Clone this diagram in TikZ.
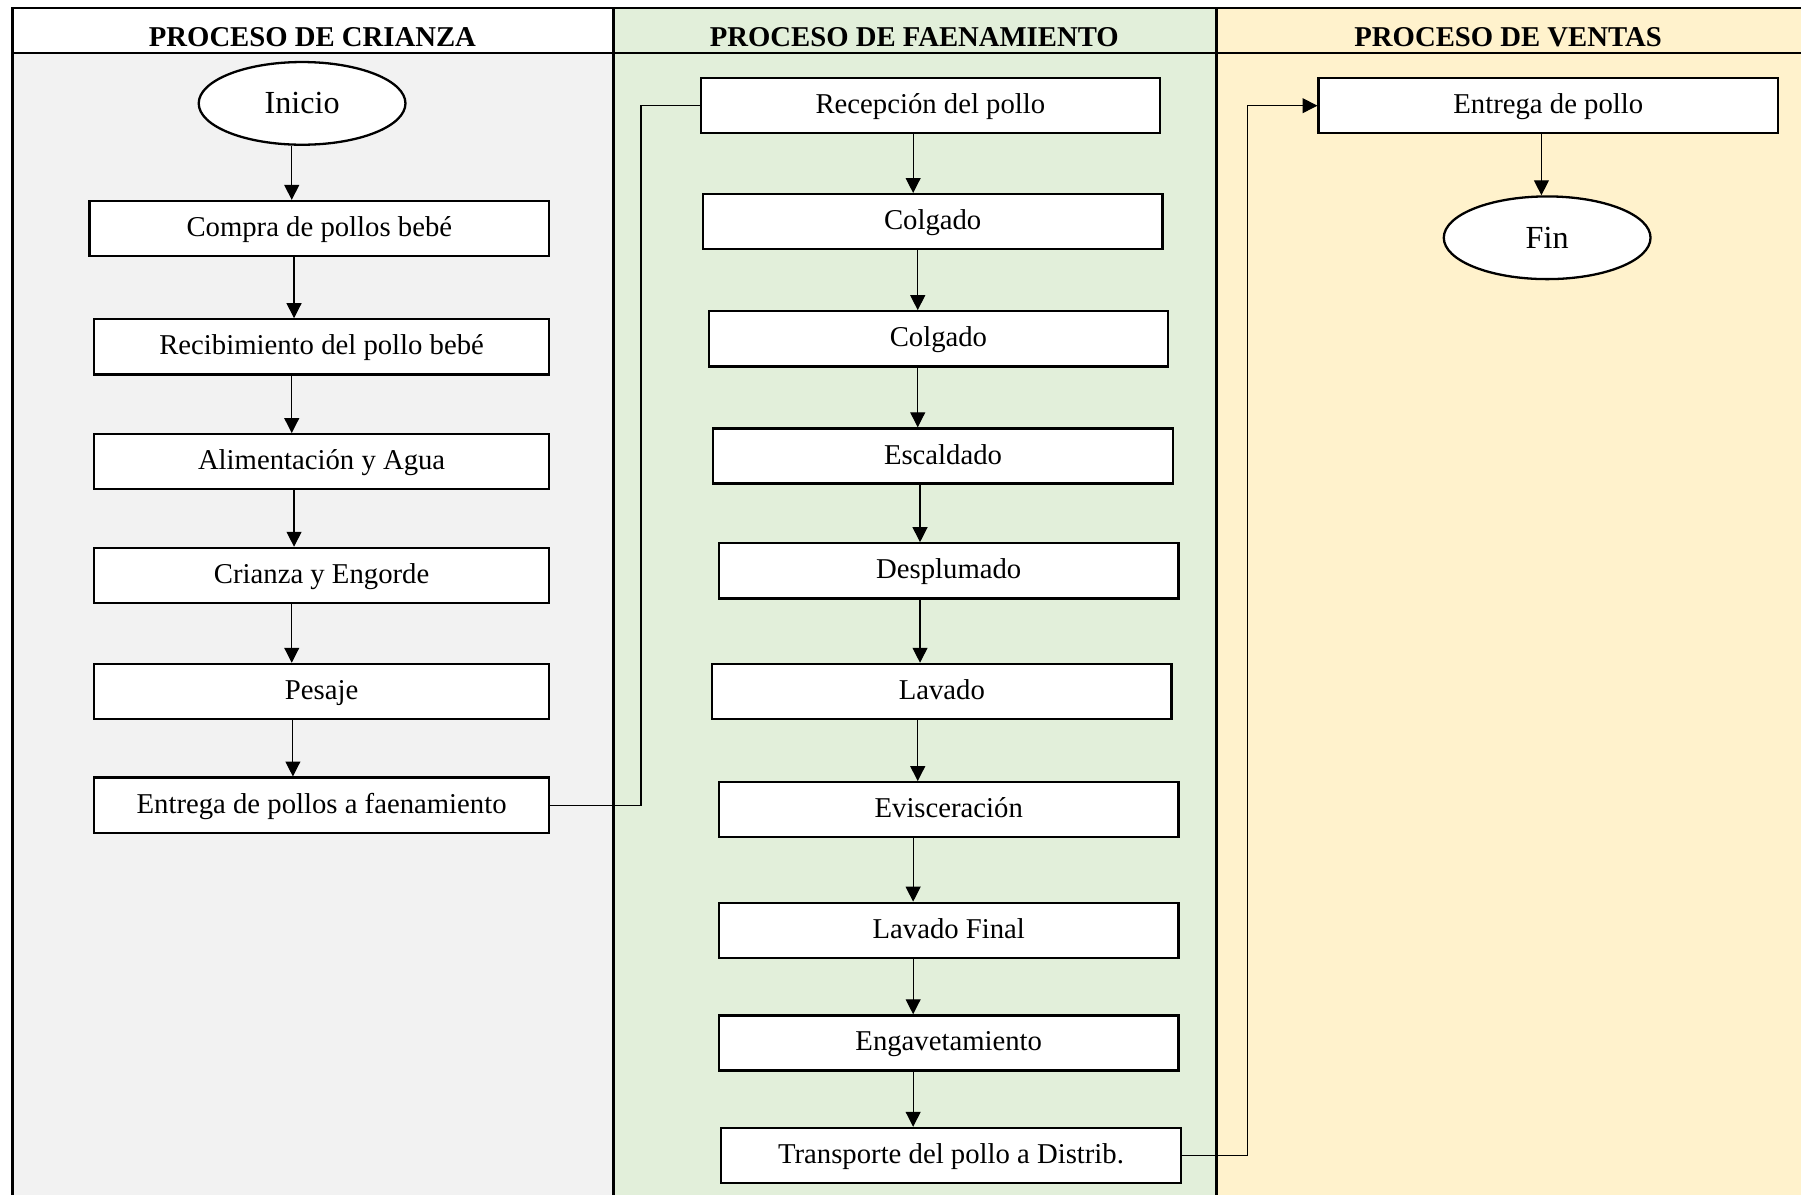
\documentclass[tikz,border=0pt]{standalone}
\usepackage{fontspec}
\setmainfont{Liberation Serif}
\usetikzlibrary{shapes,arrows.meta,calc}
\definecolor{gris}{HTML}{F2F2F2}
\definecolor{verde}{HTML}{E2EFDA}
\definecolor{amarillo}{HTML}{FFF2CC}

\tikzset{
  paso/.style={draw,line width=1pt,fill=white,minimum width=200pt,minimum height=24pt,inner sep=0pt,text height=10pt,text depth=3pt,font=\fontsize{12.5}{14}\selectfont},
  extremo/.style={ellipse,draw,line width=1pt,fill=white,minimum width=90pt,minimum height=36pt,inner sep=0pt,font=\fontsize{14}{16}\selectfont},
  titulo/.style={font=\bfseries\fontsize{12.5}{14}\selectfont},
  flecha/.style={line width=0.5pt,-{Triangle[length=6.5pt,width=6.5pt]}},
  linea/.style={line width=0.5pt}
}

\begin{document}
\begin{tikzpicture}[x=0.5pt,y=-0.5pt]
  \useasboundingbox (0,0) rectangle (1568,1040);
  % carriles
  \fill[white] (11,7) rectangle (534,46);
  \fill[gris] (11,46) rectangle (534,1040);
  \fill[verde] (534,7) rectangle (1059,1040);
  \fill[amarillo] (1059,7) rectangle (1568,1040);
  \draw[line width=1.2pt] (11,1040) -- (11,7) -- (1568,7);
  \draw[line width=1.2pt] (534,7) -- (534,1040);
  \draw[line width=1.2pt] (1059,7) -- (1059,1040);
  \draw[line width=0.6pt] (11,46) -- (1568,46);

  \node[titulo] (t1) at (272,32) {PROCESO DE CRIANZA};
  \node[titulo] (t2) at (796,32) {PROCESO DE FAENAMIENTO};
  \node[titulo] (t3) at (1313,32) {PROCESO DE VENTAS};

  % crianza
  \node[extremo] (inicio) at (263,90) {Inicio};
  \node[paso] (compra) at (278,199) {Compra de pollos bebé};
  \node[paso,minimum width=198pt] (recibimiento) at (280,302) {Recibimiento del pollo bebé};
  \node[paso,minimum width=198pt] (alimentacion) at (280,402) {Alimentación y Agua};
  \node[paso,minimum width=198pt] (crianza) at (280,501) {Crianza y Engorde};
  \node[paso,minimum width=198pt] (pesaje) at (280,602) {Pesaje};
  \node[paso,minimum width=198pt] (entrega) at (280,701) {Entrega de pollos a faenamiento};

  \foreach \a/\b/\x in {inicio/compra/254, compra/recibimiento/256, recibimiento/alimentacion/254,
      alimentacion/crianza/256, crianza/pesaje/254, pesaje/entrega/255}
    \draw[flecha] (\a.south -| \x,0) -- (\b.north -| \x,0);

  % faenamiento
  \node[paso] (recepcion) at (810,92) {Recepción del pollo};
  \node[paso] (colgado) at (812,193) {Colgado};
  \node[paso] (colgadob) at (817,295) {Colgado};
  \node[paso] (escaldado) at (821,397) {Escaldado};
  \node[paso] (desplumado) at (826,497) {Desplumado};
  \node[paso] (lavado) at (820,602) {Lavado};
  \node[paso] (evisceracion) at (826,705) {Evisceración};
  \node[paso] (lavadofinal) at (826,810) {Lavado Final};
  \node[paso] (engavetamiento) at (826,908) {Engavetamiento};
  \node[paso] (transporte) at (828,1006) {Transporte del pollo a Distrib.};

  \foreach \a/\b/\x in {recepcion/colgado/795, colgado/colgadob/799, colgadob/escaldado/799,
      escaldado/desplumado/801, desplumado/lavado/801, lavado/evisceracion/799,
      evisceracion/lavadofinal/795, lavadofinal/engavetamiento/795, engavetamiento/transporte/795}
    \draw[flecha] (\a.south -| \x,0) -- (\b.north -| \x,0);

  % ventas
  \node[paso] (entregapollo) at (1348,92) {Entrega de pollo};
  \node[extremo] (fin) at (1347,207) {Fin};
  \draw[flecha] (entregapollo.south -| 1342,0) -- (fin.north -| 1342,0);

  % enlaces entre carriles
  \draw[linea] (entrega.east) -- ++(79,0) |- (recepcion.west);
  \draw[flecha] (transporte.east) -- ++(57,0) |- (entregapollo.west);
\end{tikzpicture}
\end{document}
